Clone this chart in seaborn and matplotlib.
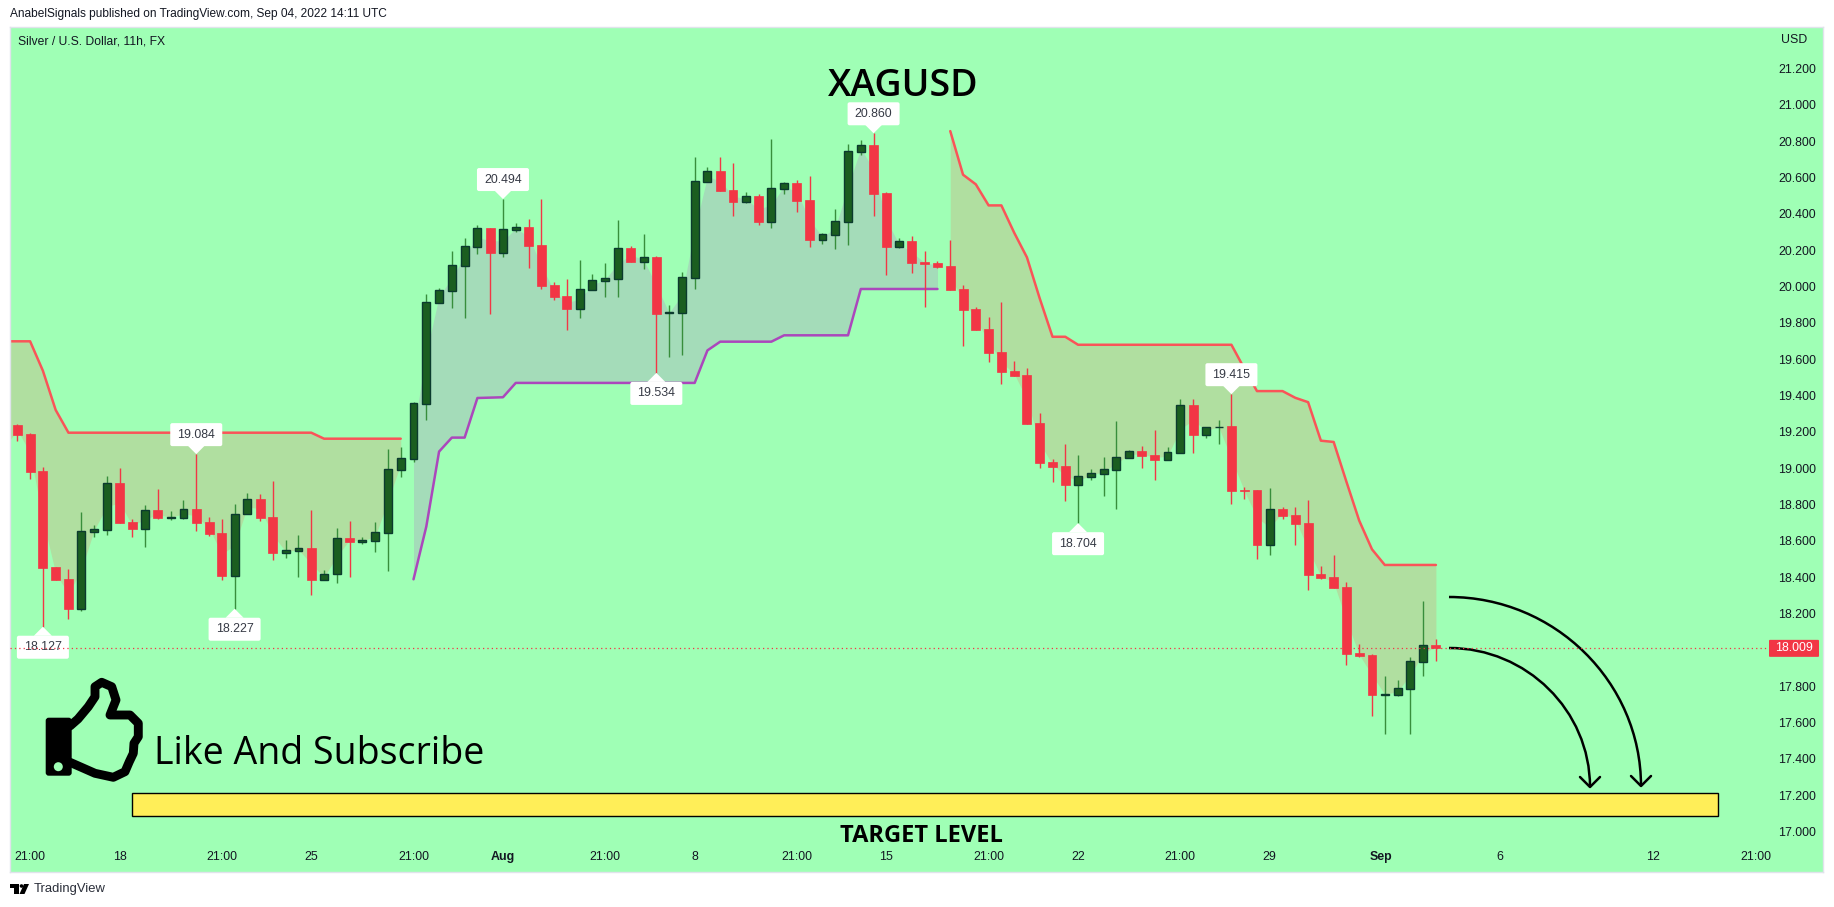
import numpy as np
import pandas as pd
import matplotlib
matplotlib.use("Agg")
import matplotlib.pyplot as plt
from matplotlib.patches import FancyBboxPatch, PathPatch, Polygon, Circle, Rectangle
from matplotlib.path import Path
import seaborn as sns

# candles, first one sits just off the left edge
bars = list(range(-1, 112))
opens = [19.13, 19.238, 19.189, 18.983, 18.457, 18.391, 18.227, 18.651, 18.662, 18.919, 18.704, 18.668, 18.770, 18.726, 18.728,
         18.774, 18.704, 18.644, 18.409, 18.746, 18.831, 18.732, 18.535, 18.546, 18.561, 18.387, 18.416, 18.616, 18.596, 18.601,
         18.646, 18.992, 19.053, 19.356, 19.912, 19.978, 20.115, 20.220, 20.323, 20.187, 20.313, 20.328, 20.229, 20.009, 19.948,
         19.877, 19.983, 20.033, 20.044, 20.212, 20.137, 20.163, 19.853, 19.857, 20.049, 20.578, 20.636, 20.532, 20.467, 20.499,
         20.357, 20.539, 20.570, 20.477, 20.258, 20.286, 20.357, 20.743, 20.779, 20.513, 20.218, 20.249, 20.135, 20.129, 20.113,
         19.986, 19.876, 19.766, 19.640, 19.535, 19.513, 19.249, 19.034, 19.012, 18.909, 18.953, 18.970, 18.992, 19.058, 19.093,
         19.073, 19.047, 19.085, 19.348, 19.185, 19.227, 19.232, 18.880, 18.880, 18.577, 18.775, 18.742, 18.699, 18.418, 18.402,
         18.347, 17.983, 17.972, 17.754, 17.754, 17.787, 17.936, 18.028]
highs = [19.14, 19.244, 19.192, 19.005, 18.457, 18.444, 18.759, 18.688, 18.957, 19.001, 18.721, 18.798, 18.886, 18.765, 18.825,
         19.078, 18.732, 18.721, 18.803, 18.864, 18.858, 18.930, 18.605, 18.633, 18.770, 18.440, 18.671, 18.710, 18.622, 18.704,
         19.106, 19.117, 19.365, 19.959, 19.990, 20.196, 20.268, 20.339, 20.323, 20.482, 20.350, 20.372, 20.482, 20.025, 20.042,
         20.146, 20.069, 20.130, 20.367, 20.223, 20.290, 20.169, 19.899, 20.080, 20.713, 20.658, 20.713, 20.680, 20.521, 20.510,
         20.812, 20.576, 20.587, 20.609, 20.295, 20.427, 20.785, 20.807, 20.844, 20.521, 20.267, 20.278, 20.195, 20.140, 20.256,
         20.008, 19.887, 19.832, 19.915, 19.590, 19.551, 19.304, 19.051, 19.133, 19.073, 18.996, 19.062, 19.260, 19.100, 19.122,
         19.210, 19.117, 19.381, 19.381, 19.230, 19.265, 19.408, 18.897, 18.880, 18.891, 18.786, 18.786, 18.826, 18.462, 18.523,
         18.374, 18.033, 17.978, 17.857, 17.835, 17.961, 18.270, 18.061]
lows = [19.09, 19.152, 18.941, 18.128, 18.387, 18.170, 18.216, 18.623, 18.633, 18.701, 18.622, 18.568, 18.721, 18.715, 18.721,
        18.656, 18.629, 18.387, 18.227, 18.746, 18.710, 18.495, 18.506, 18.402, 18.302, 18.387, 18.368, 18.402, 18.583, 18.539,
        18.435, 18.952, 19.034, 19.268, 19.912, 19.882, 19.827, 20.179, 19.849, 20.163, 20.301, 20.102, 19.987, 19.926, 19.761,
        19.827, 19.983, 19.943, 19.943, 20.135, 20.097, 19.525, 19.613, 19.624, 19.987, 20.578, 20.526, 20.389, 20.460, 20.339,
        20.323, 20.510, 20.411, 20.218, 20.234, 20.207, 20.229, 20.724, 20.389, 20.064, 20.212, 20.076, 19.889, 20.102, 19.981,
        19.673, 19.761, 19.585, 19.463, 19.507, 19.243, 19.001, 18.924, 18.820, 18.698, 18.935, 18.847, 18.775, 19.058, 19.001,
        18.935, 19.047, 19.085, 19.084, 19.166, 19.133, 18.803, 18.831, 18.500, 18.522, 18.720, 18.577, 18.330, 18.391, 18.341,
        17.917, 17.961, 17.637, 17.538, 17.747, 17.538, 17.857, 17.939]
closes = [19.10, 19.185, 18.981, 18.453, 18.387, 18.227, 18.653, 18.664, 18.917, 18.701, 18.668, 18.768, 18.726, 18.732, 18.774,
          18.701, 18.640, 18.409, 18.746, 18.829, 18.726, 18.534, 18.548, 18.559, 18.387, 18.416, 18.614, 18.596, 18.605, 18.647,
          18.994, 19.055, 19.357, 19.913, 19.979, 20.117, 20.222, 20.321, 20.185, 20.315, 20.328, 20.224, 20.003, 19.943, 19.877,
          19.985, 20.035, 20.046, 20.211, 20.135, 20.161, 19.849, 19.858, 20.051, 20.579, 20.634, 20.526, 20.466, 20.497, 20.356,
          20.541, 20.568, 20.471, 20.257, 20.288, 20.359, 20.744, 20.778, 20.510, 20.218, 20.249, 20.131, 20.126, 20.109, 19.981,
          19.871, 19.761, 19.634, 19.529, 19.507, 19.243, 19.029, 19.007, 18.908, 18.955, 18.972, 18.994, 19.060, 19.093, 19.067,
          19.045, 19.087, 19.346, 19.183, 19.230, 19.230, 18.875, 18.876, 18.577, 18.774, 18.737, 18.693, 18.413, 18.396, 18.341,
          17.978, 17.967, 17.752, 17.758, 17.789, 17.938, 18.026, 18.009]

# supertrend stretches (bars -1..30 down, 31..72 up, 73..111 down)
upper_1 = [19.699, 19.699, 19.699, 19.537, 19.321, 19.196, 19.196, 19.196, 19.196, 19.196, 19.196, 19.196, 19.196, 19.196, 19.196, 19.196,
           19.196, 19.196, 19.196, 19.196, 19.196, 19.196, 19.196, 19.196, 19.196, 19.163, 19.163, 19.163, 19.163, 19.163, 19.163, 19.163]
lower = [18.389, 18.679, 19.092, 19.169, 19.169, 19.387, 19.389, 19.391, 19.470, 19.470, 19.470, 19.470, 19.470, 19.470, 19.470, 19.470,
         19.470, 19.470, 19.470, 19.470, 19.470, 19.470, 19.470, 19.649, 19.697, 19.697, 19.697, 19.697, 19.697, 19.732, 19.732, 19.732,
         19.732, 19.732, 19.732, 19.987, 19.987, 19.987, 19.987, 19.987, 19.987, 19.987]
upper_2 = [20.856, 20.616, 20.563, 20.447, 20.447, 20.297, 20.161, 19.935, 19.724, 19.724, 19.680, 19.680, 19.680, 19.680, 19.680, 19.680,
           19.680, 19.680, 19.680, 19.680, 19.680, 19.680, 19.680, 19.550, 19.425, 19.425, 19.425, 19.388, 19.364, 19.152, 19.145, 18.926,
           18.712, 18.554, 18.468, 18.468, 18.468, 18.468, 18.468]

# pivot labels
label_bars = [2, 14, 17, 38, 50, 67, 83, 95]
label_text = ["18.127", "19.084", "18.227", "20.494", "19.534", "20.860", "18.704", "19.415"]
label_up = [False, True, False, True, False, True, False, True]

price_ticks = [17.0, 17.2, 17.4, 17.6, 17.8, 18.0, 18.2, 18.4, 18.6, 18.8, 19.0, 19.2, 19.4, 19.6, 19.8, 20.0, 20.2, 20.4, 20.6, 20.8, 21.0, 21.2]
price_tick_labels = ["17.000", "17.200", "17.400", "17.600", "17.800", "", "18.200", "18.400", "18.600", "18.800", "19.000", "19.200",
                     "19.400", "19.600", "19.800", "20.000", "20.200", "20.400", "20.600", "20.800", "21.000", "21.200"]
time_ticks = [1, 8, 16, 23, 31, 38, 46, 53, 61, 68, 76, 83, 91, 98, 106.7, 116, 128, 136]
time_labels = ["21:00", "18", "21:00", "25", "21:00", "Aug", "21:00", "8", "21:00", "15", "21:00", "22", "21:00", "29", "Sep", "6", "12", "21:00"]

last_price = 18.009
target_low, target_high = 17.088, 17.211
target_start, target_end = 9.0, 133.05

BG = "#9FFFB5"
RED = "#F23645"
GREEN_BODY = "#1B5E20"
GREEN_EDGE = "#0B3B2E"
GREEN_WICK = "#388E3C"
TEXT = "#131722"
AXIS_SIZE = 8.9

sns.set_theme(style="white")
plt.rcParams["font.family"] = ["Liberation Sans", "DejaVu Sans"]

df = pd.DataFrame({"bar": bars, "open": opens, "high": highs, "low": lows, "close": closes})
df["mid"] = (df["open"] + df["close"]) / 2
df["body_low"] = df[["open", "close"]].min(axis=1)
df["body_h"] = (df["open"] - df["close"]).abs()
up = df[df["close"] >= df["open"]]
down = df[df["close"] < df["open"]]

fig = plt.figure(figsize=(18.34, 9.07), dpi=100, facecolor="white")
ax = fig.add_axes([10 / 1834, 35 / 907, 1813 / 1834, 845 / 907], facecolor=BG)
ax.set_xlim(-0.574, 141.29)
ax.set_ylim(16.778, 21.429)

# trend bands
seg_1 = df[df["bar"] <= 30]
seg_2 = df[(df["bar"] >= 31) & (df["bar"] <= 72)]
seg_3 = df[df["bar"] >= 73]
ax.fill_between(seg_1["bar"], upper_1, seg_1["mid"], color="#B0DFA0", lw=0, zorder=1)
ax.fill_between(seg_2["bar"], lower, seg_2["mid"], color="#A4DCB9", lw=0, zorder=1)
ax.fill_between(seg_3["bar"], upper_2, seg_3["mid"], color="#B0DFA0", lw=0, zorder=1)
sns.lineplot(x=seg_1["bar"].values, y=upper_1, color="#FA5458", lw=1.8, ax=ax, legend=False, zorder=2)
sns.lineplot(x=seg_2["bar"].values, y=lower, color="#AB47BC", lw=1.8, ax=ax, legend=False, zorder=2)
sns.lineplot(x=seg_3["bar"].values, y=upper_2, color="#FA5458", lw=1.8, ax=ax, legend=False, zorder=2)

# candles
ax.vlines(up["bar"], up["low"], up["high"], color=GREEN_WICK, lw=1.0, zorder=3)
ax.vlines(down["bar"], down["low"], down["high"], color=RED, lw=1.0, zorder=3)
ax.bar(up["bar"], up["body_h"], bottom=up["body_low"], width=0.62, color=GREEN_BODY, edgecolor=GREEN_EDGE, lw=1.0, zorder=4)
ax.bar(down["bar"], down["body_h"], bottom=down["body_low"], width=0.7, color=RED, edgecolor=RED, lw=0.5, zorder=4)

# target box
ax.add_patch(Rectangle((target_start, target_low), target_end - target_start, target_high - target_low,
                       fc="#FFEE58", ec="black", lw=1.0, zorder=2))

ax.set_yticks(price_ticks)
ax.set_yticklabels(price_tick_labels)
ax.set_xticks(time_ticks)
ax.set_xticklabels(time_labels)
ax.set_xlabel("")
ax.set_ylabel("")
ax.yaxis.tick_right()
ax.tick_params(axis="y", length=0, pad=-32, labelsize=AXIS_SIZE, labelcolor=TEXT)
ax.tick_params(axis="x", length=0, pad=-15, labelsize=AXIS_SIZE, labelcolor=TEXT)
for t in ax.get_xticklabels():
    if t.get_text() in ("Aug", "Sep"):
        t.set_fontweight("bold")
for s in ax.spines.values():
    s.set_color("#E0E3EB")
    s.set_linewidth(1)

# overlay in image pixels for the drawn-on notes
ov = fig.add_axes([0, 0, 1, 1], facecolor="none")
ov.set_xlim(0, 1834)
ov.set_ylim(907, 0)
ov.axis("off")


def to_px(bar, price):
    px, py = ax.transData.transform((bar, price))
    return px, 907 - py


# pivot labels
for b, txt, is_up in zip(label_bars, label_text, label_up):
    row = df[df["bar"] == b].iloc[0]
    px, py = to_px(b, row["high"] if is_up else row["low"])
    sgn = -1 if is_up else 1
    ov.add_patch(Polygon([(px, py), (px - 9, py + sgn * 9), (px + 9, py + sgn * 9)], fc="white", ec="none", zorder=5))
    top = py + 9 if not is_up else py - 8 - 23
    ov.add_patch(FancyBboxPatch((px - 26, top), 52, 23, boxstyle="round,pad=0,rounding_size=2", fc="white", ec="none", zorder=5))
    ov.text(px, top + 11.5, txt, ha="center", va="center", fontsize=AXIS_SIZE, color="#363A45", zorder=6)

# last price line and tag
_, last_y = to_px(0, last_price)
ov.plot([10, 1770], [last_y, last_y], color=RED, lw=0.9, ls=(0, (1, 2.5)), zorder=7)
ov.add_patch(FancyBboxPatch((1769, last_y - 8.5), 50, 17, boxstyle="round,pad=0,rounding_size=1", fc=RED, ec="none", zorder=7))
ov.text(1794.5, last_y, "18.009", ha="center", va="center", fontsize=AXIS_SIZE, color="white", zorder=8)

# curved arrows down to the target
for sx, sy, ex, ey in [(1449, 597, 1641, 786), (1449, 648, 1590, 787)]:
    dx, dy = ex - sx, ey - sy
    verts = [(sx, sy), (sx + 0.55 * dx, sy), (ex, ey - 0.55 * dy), (ex, ey)]
    ov.add_patch(PathPatch(Path(verts, [Path.MOVETO, Path.CURVE4, Path.CURVE4, Path.CURVE4]), fc="none", ec="black", lw=1.8))
    ov.plot([ex - 10, ex, ex + 10], [ey - 10, ey, ey - 10], color="black", lw=1.8)

# thumb icon
hand = [(70, 726), (78, 719), (88.3, 706.7), (95, 696.7), (95, 686.7), (101.7, 682.3), (111.7, 686.7), (116, 700), (110, 715), (130, 715),
        (138.3, 723.3), (138.3, 736.7), (134, 743.3), (133.3, 753.3), (129.3, 761.7), (125, 771.7), (113.3, 777.3), (95, 773.3), (70, 762.3)]
hx, hy = zip(*hand)
ov.plot(hx, hy, color="black", lw=6.4, solid_joinstyle="round", solid_capstyle="round")
ov.add_patch(FancyBboxPatch((45.7, 717.7), 26, 58, boxstyle="round,pad=0,rounding_size=3", fc="black", ec="none"))
ov.add_patch(Circle((58.3, 766.7), 4.5, fc=BG, ec="none"))

ov.text(154, 764, "Like And Subscribe", ha="left", va="baseline", fontsize=27, color="black", family="Open Sans", fontweight="medium")
ov.text(903.6, 96, "XAGUSD", ha="center", va="baseline", fontsize=27, color="black", family="Open Sans", fontweight="semibold")
ov.text(921, 841.7, "TARGET LEVEL", ha="center", va="baseline", fontsize=17, color="black", family="Open Sans", fontweight="bold")

# header and footer
ov.text(10.5, 14.5, "AnabelSignals published on TradingView.com, Sep 04, 2022 14:11 UTC", ha="left", va="center", fontsize=8.6, color=TEXT)
ov.text(18, 42, "Silver / U.S. Dollar, 11h, FX", ha="left", va="center", fontsize=8.7, color=TEXT)
ov.text(1781, 40, "USD", ha="left", va="center", fontsize=AXIS_SIZE, color=TEXT)
ov.add_patch(Polygon([(10, 884), (19, 884), (19, 894), (14, 894), (14, 888), (10, 888)], fc="black", ec="none"))
ov.add_patch(Circle((21.5, 886), 1.8, fc="black", ec="none"))
ov.add_patch(Polygon([(24, 884), (29, 884), (24.5, 894), (19.5, 894)], fc="black", ec="none"))
ov.text(33.5, 889, "TradingView", ha="left", va="center", fontsize=9.4, color="#2A2E39")

fig.savefig("out.png", dpi=100, facecolor="white")
